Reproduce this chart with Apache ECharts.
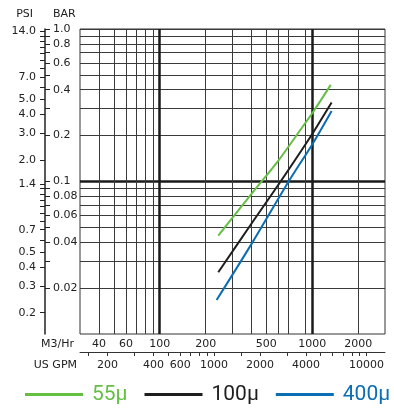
<!DOCTYPE html>
<html><head><meta charset="utf-8">
<script src="https://cdn.jsdelivr.net/npm/echarts@6/dist/echarts.min.js"></script>
<style>html,body{margin:0;padding:0;background:#fff}#c{width:394px;height:408px}</style>
</head><body><div id="c"></div>
<script>
// ---- data ----
const seriesNames = ['55μ', '100μ', '400μ'];
const seriesColors = ['#66bf45', '#1e1e1e', '#0b6db3'];
const flow55 = [242, 400, 600, 800, 1000, 1322];
const bar55 = [0.0441, 0.083, 0.137, 0.205, 0.28, 0.43];
const flow100 = [242, 400, 620, 1000, 1340];
const bar100 = [0.0254, 0.053, 0.1, 0.205, 0.33];
const flow400 = [236, 400, 700, 1000, 1340];
const bar400 = [0.0167, 0.039, 0.1, 0.175, 0.29];

const M3_MIN = 30, M3_MAX = 3000;
const BAR_MIN = 0.01, BAR_MAX = 1.0;
const PSI_PER_BAR = 14.5038;
const GPM_PER_M3H = 4.40287;

const m3GridValues = [40, 50, 60, 70, 80, 90, 100, 200, 300, 400, 500, 600, 700, 900, 1000, 2000];
const m3ThickValues = [100, 1000];
const m3LabelValues = [40, 60, 100, 200, 500, 1000, 2000];
const gpmTickValues = [150, 200, 300, 400, 500, 600, 700, 800, 900, 1000, 1500, 2000, 3000, 4000, 5000, 6000, 7000, 8000, 9000, 10000];
const gpmLabelValues = [200, 400, 600, 1000, 2000, 4000, 10000];
const barGridValues = [0.02, 0.03, 0.04, 0.05, 0.06, 0.07, 0.08, 0.09, 0.1, 0.2, 0.3, 0.4, 0.5, 0.6, 0.7, 0.8, 0.9, 1.0];
const barThickValues = [0.1];
const barLabelValues = [1.0, 0.8, 0.6, 0.4, 0.2, 0.1, 0.08, 0.06, 0.04, 0.02];
const psiTickValues = [14, 13, 12, 11, 10, 9, 8, 7, 6, 5, 4, 3, 2, 1.4, 1.3, 1.2, 1.1, 1.0, 0.9, 0.8, 0.7, 0.6, 0.5, 0.4, 0.3, 0.2];
const psiLabelValues = [14, 7, 5, 4, 3, 2, 1.4, 0.7, 0.5, 0.4, 0.3, 0.2];

// ---- chart ----
const lab = { fontFamily: 'DejaVu Sans', fontSize: 11, color: '#222' };
const gridLine = { show: true, lineStyle: { color: '#3a3a3a', width: 1 } };
const thickLine = { show: true, lineStyle: { color: '#1a1a1a', width: 2.5 } };
const hidden = { axisLine: { show: false }, axisTick: { show: false }, axisLabel: { show: false } };
const plain = v => String(Math.round(v));

function zip(a, b) { return a.map((v, i) => [v, b[i]]); }

const chart = echarts.init(document.getElementById('c'), null, { renderer: 'canvas' });
chart.setOption({
  animation: false,
  backgroundColor: '#fff',
  grid: { left: 80, top: 29, width: 305, height: 305, show: true, borderColor: '#333', borderWidth: 1, backgroundColor: 'transparent' },
  xAxis: [
    {
      type: 'log', min: M3_MIN, max: M3_MAX, position: 'bottom',
      name: 'M3/Hr', nameLocation: 'start', nameGap: 6,
      nameTextStyle: Object.assign({}, lab, { verticalAlign: 'top', padding: [5, 0, 0, 0] }),
      axisLine: { show: false },
      axisTick: { show: false, customValues: m3GridValues },
      axisLabel: Object.assign({}, lab, { customValues: m3LabelValues, margin: 5, formatter: plain }),
      splitLine: gridLine
    },
    Object.assign({
      type: 'log', min: M3_MIN, max: M3_MAX, position: 'bottom', splitLine: thickLine
    }, hidden, { axisTick: { show: false, customValues: m3ThickValues } }),
    {
      type: 'log', min: M3_MIN * GPM_PER_M3H, max: M3_MAX * GPM_PER_M3H, position: 'bottom', offset: 18,
      name: 'US GPM', nameLocation: 'start', nameGap: 3,
      nameTextStyle: Object.assign({}, lab, { verticalAlign: 'top', padding: [8, 0, 0, 0] }),
      axisLine: { show: true, lineStyle: { color: '#333', width: 1 } },
      axisTick: { show: true, inside: false, length: 4, customValues: gpmTickValues, lineStyle: { color: '#333' } },
      axisLabel: Object.assign({}, lab, { customValues: gpmLabelValues, margin: 8, formatter: plain }),
      splitLine: { show: false }
    }
  ],
  yAxis: [
    {
      type: 'log', min: BAR_MIN, max: BAR_MAX, position: 'left', offset: 35,
      name: 'BAR', nameLocation: 'end', nameGap: 9,
      nameTextStyle: Object.assign({}, lab, { align: 'left', padding: [0, 0, 0, 8] }),
      axisLine: { show: true, lineStyle: { color: '#222', width: 1.5 } },
      axisTick: { show: true, inside: true, length: 5, customValues: barGridValues, lineStyle: { color: '#222' } },
      axisLabel: Object.assign({}, lab, {
        inside: true, margin: 8, customValues: barLabelValues,
        formatter: v => (v >= 0.1 ? Number(v).toFixed(1) : Number(v).toFixed(2))
      }),
      splitLine: gridLine
    },
    Object.assign({
      type: 'log', min: BAR_MIN, max: BAR_MAX, position: 'left', splitLine: thickLine
    }, hidden, { axisTick: { show: false, customValues: barThickValues } }),
    {
      type: 'log', min: BAR_MIN * PSI_PER_BAR, max: BAR_MAX * PSI_PER_BAR, position: 'left', offset: 35,
      name: 'PSI', nameLocation: 'end', nameGap: 9,
      nameTextStyle: Object.assign({}, lab, { align: 'right', padding: [0, 12, 0, 0] }),
      axisLine: { show: false },
      axisTick: { show: true, inside: false, length: 5, customValues: psiTickValues, lineStyle: { color: '#222' } },
      axisLabel: Object.assign({}, lab, {
        margin: 9, customValues: psiLabelValues,
        formatter: v => Number(v).toFixed(1)
      }),
      splitLine: { show: false }
    }
  ],
  legend: {
    left: 25, top: 384, width: 369, padding: 0, icon: 'rect', itemWidth: 58, itemHeight: 3, itemGap: 17,
    textStyle: { fontFamily: 'Roboto', fontSize: 21, padding: [0, 0, 0, 4] },
    data: seriesNames.map((n, i) => ({ name: n, textStyle: { color: seriesColors[i] } }))
  },
  series: [
    { name: seriesNames[0], data: zip(flow55, bar55) },
    { name: seriesNames[1], data: zip(flow100, bar100) },
    { name: seriesNames[2], data: zip(flow400, bar400) }
  ].map((s, i) => Object.assign(s, {
    type: 'line', xAxisIndex: 0, yAxisIndex: 0, smooth: 0.3, symbol: 'none',
    color: seriesColors[i], lineStyle: { width: 2, color: seriesColors[i] }, z: 5
  }))
});
</script>
</body></html>
